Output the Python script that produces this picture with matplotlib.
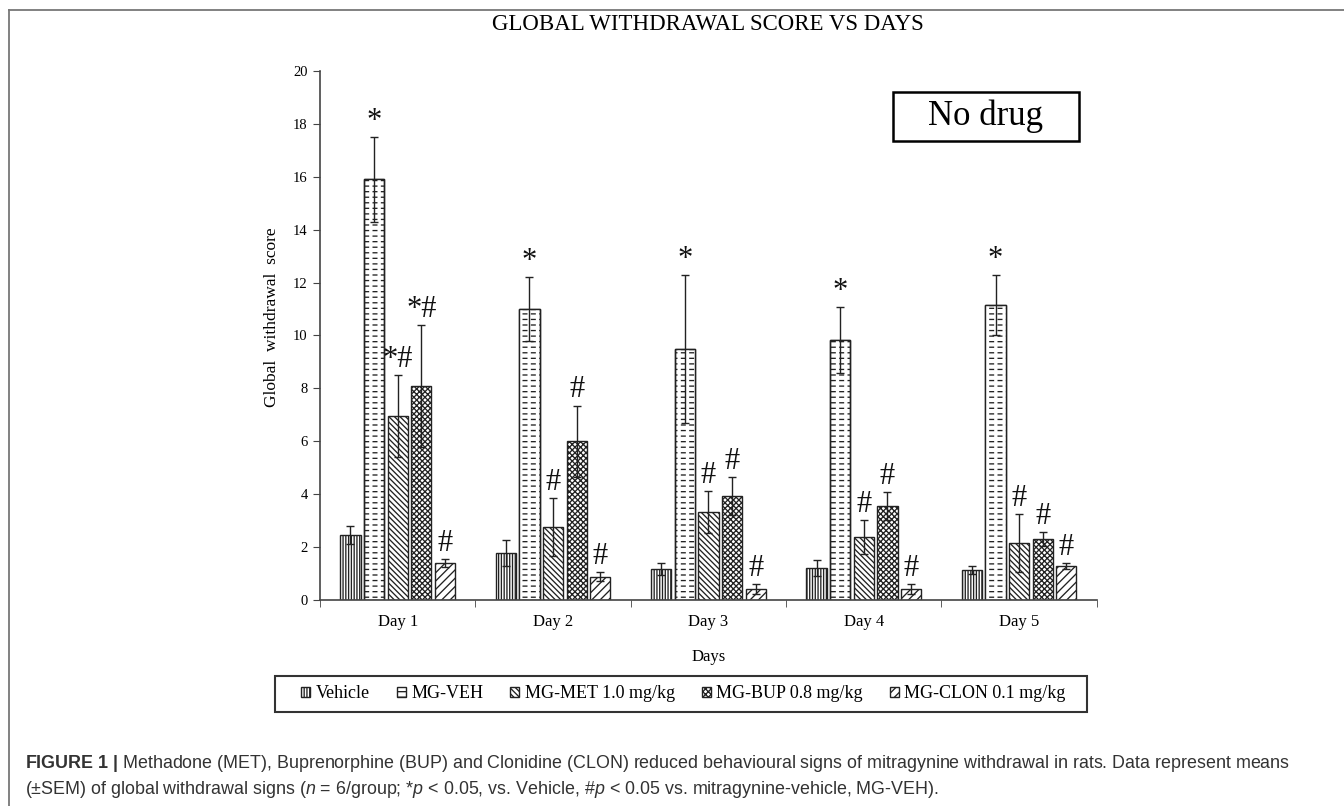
import numpy as np
import matplotlib.pyplot as plt
from matplotlib.lines import Line2D
from matplotlib.patches import Rectangle

# data (means and SEM)
days = ["Day 1", "Day 2", "Day 3", "Day 4", "Day 5"]
groups = ["Vehicle", "MG-VEH", "MG-MET 1.0 mg/kg", "MG-BUP 0.8 mg/kg", "MG-CLON 0.1 mg/kg"]

vehicle = [2.45, 1.78, 1.17, 1.21, 1.13]
vehicle_sem = [0.35, 0.49, 0.23, 0.30, 0.16]
mg_veh = [15.9, 11.0, 9.49, 9.83, 11.15]
mg_veh_sem = [1.6, 1.2, 2.8, 1.25, 1.13]
mg_met = [6.95, 2.75, 3.33, 2.38, 2.15]
mg_met_sem = [1.55, 1.1, 0.79, 0.64, 1.1]
mg_bup = [8.1, 6.0, 3.93, 3.56, 2.3]
mg_bup_sem = [2.3, 1.35, 0.72, 0.52, 0.27]
mg_clon = [1.4, 0.87, 0.42, 0.42, 1.29]
mg_clon_sem = [0.15, 0.17, 0.18, 0.18, 0.11]

sig_vehicle = ["", "", "", "", ""]
sig_veh = ["*", "*", "*", "*", "*"]
sig_met = ["*#", "#", "#", "#", "#"]
sig_bup = ["*#", "#", "#", "#", "#"]
sig_clon = ["#", "#", "#", "#", "#"]

means = [vehicle, mg_veh, mg_met, mg_bup, mg_clon]
sems = [vehicle_sem, mg_veh_sem, mg_met_sem, mg_bup_sem, mg_clon_sem]
sigs = [sig_vehicle, sig_veh, sig_met, sig_bup, sig_clon]
hatches = ["||||||", "---", "\\\\\\\\\\\\", "xxxxxx", "////"]

plt.rcParams['font.family'] = ['Liberation Serif', 'DejaVu Serif']
plt.rcParams['hatch.linewidth'] = 0.95
plt.rcParams['mathtext.fontset'] = 'custom'
plt.rcParams['mathtext.rm'] = 'Liberation Sans'
plt.rcParams['mathtext.it'] = 'Liberation Sans:italic'
plt.rcParams['mathtext.bf'] = 'Liberation Sans:bold'

fig = plt.figure(figsize=(13.44, 8.06), dpi=100)
ax = fig.add_axes([0.2381, 0.2556, 0.578, 0.6563])

x = np.arange(len(days))
step = 0.152
width = 0.13
dark = "#222222"
handles = []
for i in range(len(groups)):
    pos = x + (i - 2) * step
    b = ax.bar(pos, means[i], width, color="white", edgecolor=dark, linewidth=1.0,
               hatch=hatches[i], zorder=2, label=groups[i])
    handles.append(b)
    if i == 1:
        # white vertical strokes break the lines into dashes
        with plt.rc_context({'hatch.linewidth': 2.4}):
            ax.bar(pos, means[i], width, color="none", edgecolor="white", linewidth=0.01,
                   hatch="||", zorder=2.1)
        ax.bar(pos, means[i], width, color="none", edgecolor=dark, linewidth=1.0, zorder=2.2)
    ax.errorbar(pos, means[i], yerr=sems[i], fmt="none", ecolor=dark, elinewidth=1.0,
                capsize=3, capthick=1.0, zorder=3)
    for j in range(len(days)):
        if sigs[i][j]:
            ax.annotate(sigs[i][j], (pos[j], means[i][j] + sems[i][j]),
                        xytext=(0, 6), textcoords="offset points",
                        ha="center", va="baseline", fontsize=22, color="#111111")

ax.set_xlim(-0.5, len(days) - 0.5)
ax.set_ylim(0, 20)
ax.set_yticks(np.arange(0, 21, 2))
ax.set_xticks(x)
ax.set_xticklabels(days, fontsize=12)
ax.set_xticks(np.arange(-0.5, len(days), 1), minor=True)
ax.tick_params(axis="x", which="major", length=0, pad=10)
ax.tick_params(axis="x", which="minor", length=5, direction="out", color="#444444")
ax.tick_params(axis="y", length=5, direction="out", labelsize=10.5, color="#444444", pad=4)
for s in ["top", "right"]:
    ax.spines[s].set_visible(False)
for s in ["left", "bottom"]:
    ax.spines[s].set_color("#444444")
    ax.spines[s].set_linewidth(1.2)

ax.set_ylabel("Global  withdrawal  score", fontsize=12.5)
ax.yaxis.set_label_coords(-0.052, 0.535)
ax.set_xlabel("Days", fontsize=12, labelpad=14)

fig.text(0.527, 0.970, "GLOBAL WITHDRAWAL SCORE VS DAYS", ha="center", va="center", fontsize=16.5)

fig.add_artist(Rectangle((0.6644, 0.8251), 0.1384, 0.0608, transform=fig.transFigure,
                         facecolor="white", edgecolor="black", linewidth=1.8))
fig.text(0.7336, 0.856, "No drug", ha="center", va="center", fontsize=25)

# legend box drawn by hand, entries centred inside it
fig.add_artist(Rectangle((0.2046, 0.1166), 0.6042, 0.0447, transform=fig.transFigure,
                         facecolor="white", edgecolor="#333333", linewidth=1.5))
leg = fig.legend(handles=handles, loc="center", bbox_to_anchor=(0.5085, 0.139), ncol=5,
                 fontsize=13, handlelength=0.5, handleheight=0.5, handletextpad=0.3,
                 columnspacing=1.5, frameon=False, borderaxespad=0)

# figure frame
fig.add_artist(Line2D([0.0067, 1.0], [0.988, 0.988], transform=fig.transFigure, color="#777777", lw=1.3))
fig.add_artist(Line2D([0.0067, 0.0067], [0.0, 0.988], transform=fig.transFigure, color="#777777", lw=1.3))

fig.text(0.0186, 1 - 763 / 806,
         r"$\bf{FIGURE\ 1\ |}$ Methadone (MET), Buprenorphine (BUP) and Clonidine (CLON) reduced behavioural signs of mitragynine withdrawal in rats. Data represent means",
         ha="left", va="center", fontsize=12.9, family="Liberation Sans", color="#333333")
fig.text(0.0186, 1 - 789 / 806,
         r"(±SEM) of global withdrawal signs ($\it{n}$ = 6/group; *$\it{p}$ < 0.05, vs. Vehicle, #$\it{p}$ < 0.05 vs. mitragynine-vehicle, MG-VEH).",
         ha="left", va="center", fontsize=12.9, family="Liberation Sans", color="#333333")

fig.savefig("out.png", dpi=100)
